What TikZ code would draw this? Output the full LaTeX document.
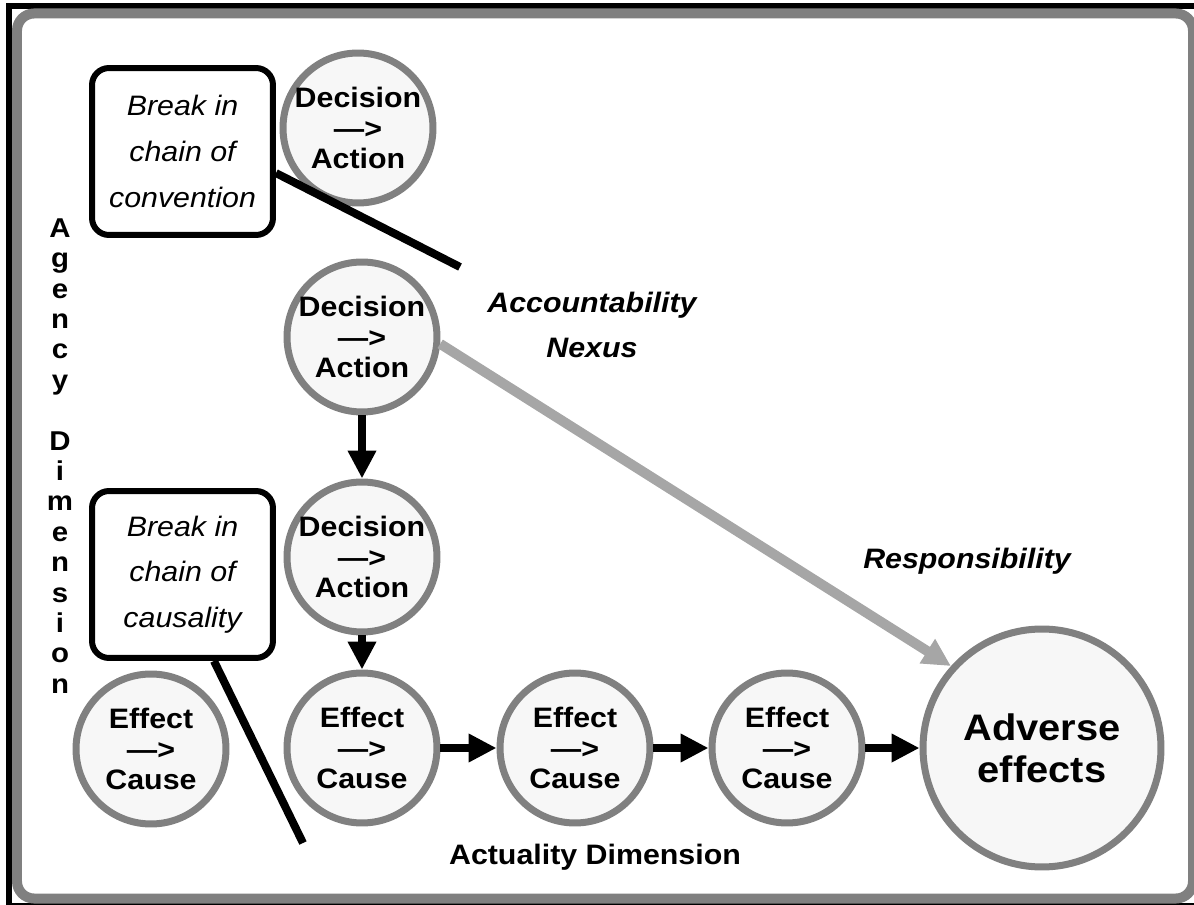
\documentclass[tikz,border=0pt]{standalone}
\usepackage{fontspec}
\setmainfont{Liberation Sans}[FakeStretch=1.08]
\usetikzlibrary{arrows.meta}

\definecolor{rimgray}{HTML}{808080}
\definecolor{bubblefill}{HTML}{F7F7F7}
\definecolor{linkgray}{HTML}{A6A6A6}

\begin{document}
\begin{tikzpicture}[x = 0.02cm, y = -0.02cm,
    stage/.style = {shape = circle, draw = rimgray, fill = bubblefill, line width = 0.14cm,
        minimum size = 3cm, inner sep = 0pt, align = center,
        font = \bfseries\fontsize{16}{17.3}\selectfont},
    breakbox/.style = {draw, rounded corners = 0.34cm, line width = 0.12cm,
        minimum width = 3.62cm, minimum height = 3.34cm, align = center,
        font = \itshape\fontsize{16}{26}\selectfont},
    notetext/.style = {align = center, font = \bfseries\itshape\fontsize{16}{25.5}\selectfont},
    flow/.style = {line width = 0.16cm, -{Triangle[length = 0.56cm, width = 0.54cm]}},
    breakline/.style = {line width = 0.16cm}]
    \useasboundingbox (0,0) rectangle (1194,905);
    % frame
    \fill (6,3) rectangle (1194,9);
    \fill (6,3) rectangle (12,905);
    \fill (6,903) rectangle (1194,905);
    \draw[rimgray, line width = 0.2cm, rounded corners = 0.34cm] (17,13.5) rectangle (1193,898.5);

    % agency chain
    \node[stage] (top) at (358, 128) {Decision\\—>\\Action};
    \node[stage] (mid) at (362, 337) {Decision\\—>\\Action};
    \node[stage] (low) at (362, 557) {Decision\\—>\\Action};
    % actuality chain
    \node[stage] (lone) at (151, 749) {Effect\\—>\\Cause};
    \node[stage] (e1) at (362, 748) {Effect\\—>\\Cause};
    \node[stage] (e2) at (575, 748) {Effect\\—>\\Cause};
    \node[stage] (e3) at (787, 748) {Effect\\—>\\Cause};
    \node[stage, minimum size = 4.76cm, font = \bfseries\fontsize{21}{24}\selectfont]
        (adverse) at (1042, 748) {Adverse\\effects};

    % breaks
    \node[breakbox] (conv) at (182.5, 151.5) {Break in\\chain of\\convention};
    \node[breakbox] (caus) at (182.5, 574.5) {Break in\\chain of\\causality};
    \coordinate (convend) at (460, 267);
    \coordinate (causend) at (303, 843);
    \draw[breakline] (conv.-13) -- (convend);
    \draw[breakline] (caus.-70) -- (causend);

    % labels
    \node[notetext] (nexus) at (592, 325) {Accountability\\Nexus};
    \node[notetext] (resp) at (967, 561) {Responsibility};
    \node[font = \bfseries\fontsize{16}{17}\selectfont] (actual) at (595, 857) {Actuality Dimension};
    \node[align = center, font = \bfseries\fontsize{15.5}{17.3}\selectfont] (agency) at (60, 456)
        {A\\g\\e\\n\\c\\y\\\mbox{}\\D\\i\\m\\e\\n\\s\\i\\o\\n};

    % arrows
    \draw[flow] (mid) -- (low);
    \draw[flow] (low) -- (e1);
    \draw[flow] (e1) -- (e2);
    \draw[flow] (e2) -- (e3);
    \draw[flow] (e3) -- (adverse);
    \draw[flow, draw = linkgray, line width = 0.2cm] (mid.-5) -- (adverse.138);
\end{tikzpicture}
\end{document}
